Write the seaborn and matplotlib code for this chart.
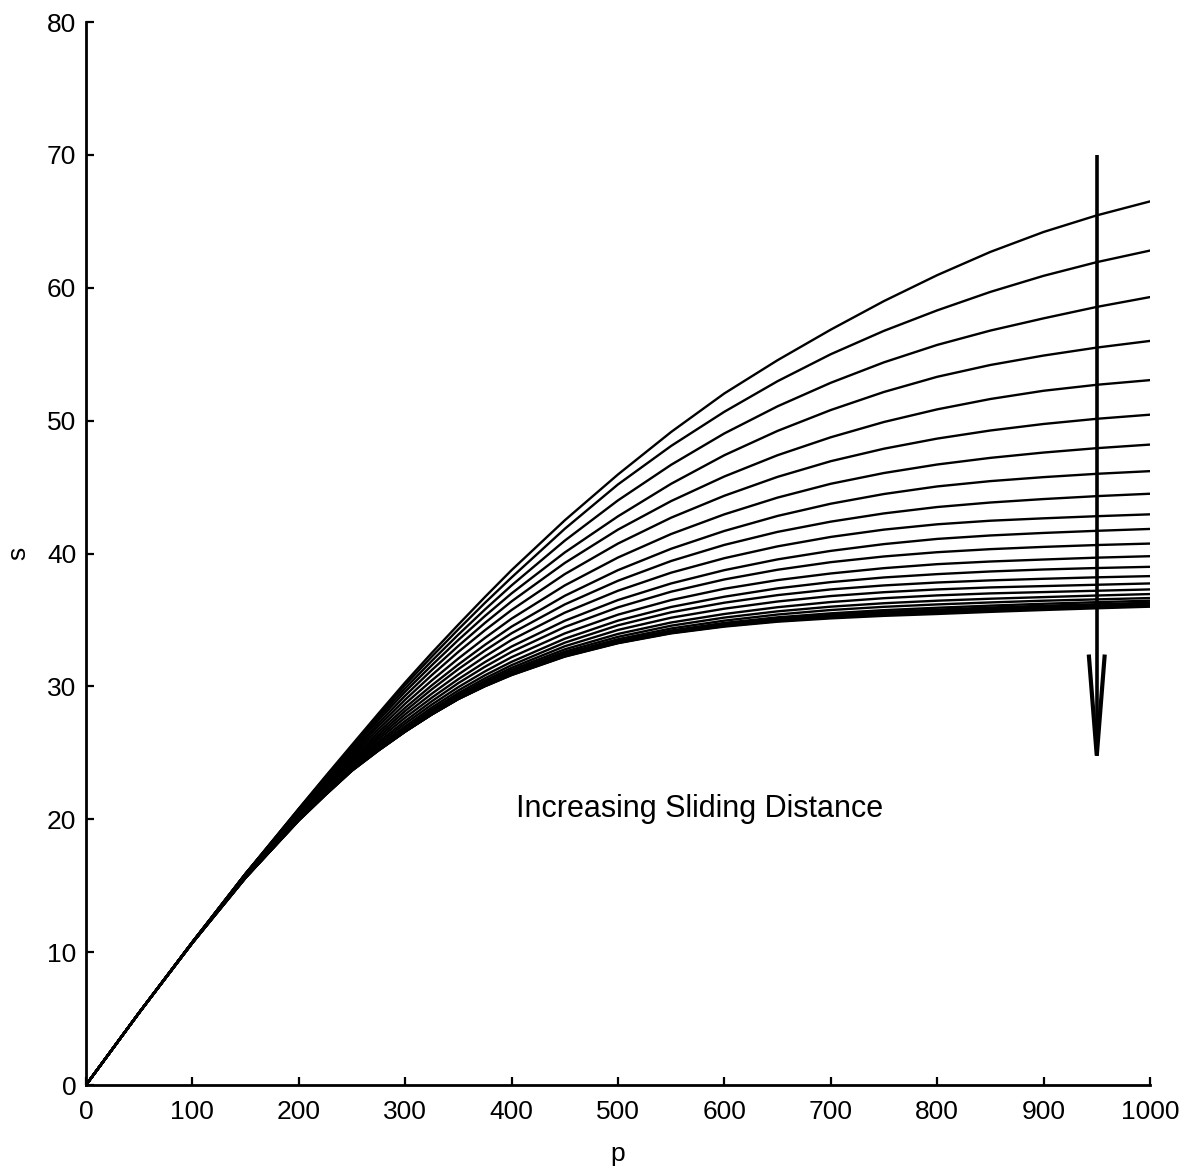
import numpy as np
import pandas as pd
import matplotlib
matplotlib.use("Agg")
import matplotlib.pyplot as plt
import seaborn as sns

# ---- data ----
p_values = [0, 50, 100, 150, 200, 225, 250, 275, 300, 325, 350, 375, 400,
            450, 500, 550, 600, 650, 700, 750, 800, 850, 900, 950, 1000]

s_01 = [0, 5.45, 10.75, 15.9, 20.8, 23.22, 25.6, 27.97, 30.3, 32.52, 34.65, 36.73, 38.75, 42.5, 45.95, 49.15, 52.05, 54.55, 56.85, 59.0, 60.95, 62.7, 64.2, 65.45, 66.5]
s_02 = [0, 5.45, 10.75, 15.9, 20.78, 23.16, 25.5, 27.82, 30.1, 32.24, 34.3, 36.29, 38.2, 41.86, 45.2, 48.1, 50.67, 52.97, 55.0, 56.76, 58.3, 59.69, 60.9, 61.93, 62.8]
s_03 = [0, 5.45, 10.75, 15.9, 20.75, 23.1, 25.4, 27.65, 29.85, 31.92, 33.9, 35.79, 37.6, 40.97, 44.0, 46.68, 49.04, 51.08, 52.85, 54.39, 55.7, 56.78, 57.7, 58.56, 59.3]
s_04 = [0, 5.45, 10.75, 15.9, 20.7, 23.0, 25.25, 27.46, 29.6, 31.59, 33.5, 35.3, 37.0, 40.08, 42.8, 45.25, 47.4, 49.23, 50.8, 52.16, 53.3, 54.19, 54.9, 55.5, 56.0]
s_05 = [0, 5.45, 10.75, 15.9, 20.65, 22.9, 25.1, 27.23, 29.3, 31.23, 33.05, 34.78, 36.4, 39.29, 41.8, 43.95, 45.8, 47.4, 48.75, 49.9, 50.85, 51.63, 52.25, 52.7, 53.05]
s_06 = [0, 5.45, 10.75, 15.9, 20.6, 22.8, 24.95, 27.02, 29.0, 30.85, 32.6, 34.23, 35.75, 38.45, 40.75, 42.7, 44.35, 45.77, 46.95, 47.89, 48.65, 49.26, 49.75, 50.14, 50.45]
s_07 = [0, 5.45, 10.75, 15.9, 20.55, 22.71, 24.8, 26.79, 28.7, 30.45, 32.1, 33.65, 35.1, 37.6, 39.7, 41.47, 42.95, 44.21, 45.25, 46.06, 46.7, 47.2, 47.6, 47.93, 48.2]
s_08 = [0, 5.45, 10.75, 15.8, 20.5, 22.6, 24.65, 26.57, 28.4, 30.08, 31.65, 33.13, 34.5, 36.82, 38.75, 40.36, 41.7, 42.83, 43.75, 44.48, 45.05, 45.45, 45.75, 46.0, 46.2]
s_09 = [0, 5.45, 10.75, 15.8, 20.45, 22.51, 24.5, 26.37, 28.15, 29.78, 31.3, 32.7, 34.0, 36.17, 37.95, 39.44, 40.65, 41.63, 42.4, 43.02, 43.5, 43.84, 44.1, 44.32, 44.5]
s_10 = [0, 5.45, 10.75, 15.8, 20.4, 22.43, 24.4, 26.19, 27.9, 29.45, 30.9, 32.25, 33.5, 35.55, 37.2, 38.56, 39.65, 40.54, 41.25, 41.8, 42.2, 42.47, 42.65, 42.81, 42.95]
s_11 = [0, 5.45, 10.75, 15.8, 20.35, 22.36, 24.3, 26.02, 27.65, 29.15, 30.55, 31.83, 33.0, 34.94, 36.5, 37.75, 38.75, 39.56, 40.2, 40.71, 41.1, 41.36, 41.55, 41.71, 41.85]
s_12 = [0, 5.45, 10.75, 15.8, 20.3, 22.28, 24.2, 25.84, 27.4, 28.88, 30.25, 31.48, 32.6, 34.47, 35.95, 37.13, 38.05, 38.78, 39.35, 39.78, 40.1, 40.33, 40.5, 40.64, 40.75]
s_13 = [0, 5.45, 10.75, 15.8, 20.25, 22.2, 24.1, 25.69, 27.2, 28.63, 29.95, 31.13, 32.2, 33.99, 35.4, 36.5, 37.35, 38.0, 38.5, 38.9, 39.2, 39.4, 39.55, 39.69, 39.8]
s_14 = [0, 5.45, 10.7, 15.7, 20.2, 22.14, 24.0, 25.55, 27.0, 28.41, 29.7, 30.84, 31.85, 33.59, 34.95, 35.98, 36.75, 37.38, 37.85, 38.2, 38.45, 38.65, 38.8, 38.91, 39.0]
s_15 = [0, 5.45, 10.7, 15.7, 20.15, 22.09, 23.95, 25.45, 26.85, 28.24, 29.5, 30.61, 31.6, 33.29, 34.6, 35.58, 36.3, 36.87, 37.3, 37.6, 37.82, 37.98, 38.1, 38.21, 38.3]
s_16 = [0, 5.45, 10.7, 15.7, 20.1, 22.04, 23.9, 25.38, 26.75, 28.11, 29.35, 30.44, 31.4, 33.02, 34.25, 35.17, 35.85, 36.39, 36.8, 37.09, 37.3, 37.45, 37.55, 37.65, 37.75]
s_17 = [0, 5.45, 10.7, 15.7, 20.07, 22.0, 23.85, 25.33, 26.7, 28.04, 29.25, 30.31, 31.25, 32.79, 33.95, 34.81, 35.45, 35.96, 36.35, 36.64, 36.85, 37.0, 37.1, 37.2, 37.3]
s_18 = [0, 5.45, 10.7, 15.7, 20.04, 21.96, 23.8, 25.29, 26.67, 27.99, 29.18, 30.22, 31.13, 32.62, 33.73, 34.57, 35.18, 35.65, 36.0, 36.26, 36.45, 36.6, 36.72, 36.84, 36.95]
s_19 = [0, 5.45, 10.7, 15.7, 20.01, 21.93, 23.77, 25.26, 26.65, 27.95, 29.13, 30.15, 31.05, 32.49, 33.55, 34.36, 34.95, 35.41, 35.75, 35.99, 36.17, 36.32, 36.45, 36.55, 36.65]
s_20 = [0, 5.45, 10.7, 15.6, 19.98, 21.9, 23.74, 25.24, 26.63, 27.93, 29.1, 30.1, 30.98, 32.39, 33.43, 34.21, 34.78, 35.2, 35.5, 35.74, 35.92, 36.08, 36.22, 36.34, 36.45]
s_21 = [0, 5.45, 10.7, 15.6, 19.96, 21.88, 23.72, 25.22, 26.62, 27.91, 29.08, 30.07, 30.94, 32.34, 33.37, 34.14, 34.69, 35.1, 35.39, 35.61, 35.78, 35.94, 36.07, 36.19, 36.3]
s_22 = [0, 5.45, 10.7, 15.6, 19.94, 21.86, 23.7, 25.21, 26.61, 27.9, 29.07, 30.05, 30.91, 32.31, 33.33, 34.09, 34.63, 35.03, 35.31, 35.53, 35.68, 35.84, 35.97, 36.08, 36.18]
s_23 = [0, 5.45, 10.7, 15.6, 19.92, 21.84, 23.68, 25.19, 26.6, 27.89, 29.06, 30.04, 30.89, 32.29, 33.3, 34.05, 34.58, 34.97, 35.24, 35.45, 35.6, 35.75, 35.88, 35.99, 36.1]
s_24 = [0, 5.45, 10.7, 15.6, 19.91, 21.83, 23.66, 25.18, 26.6, 27.89, 29.05, 30.02, 30.87, 32.26, 33.27, 34.02, 34.54, 34.92, 35.18, 35.38, 35.52, 35.68, 35.82, 35.94, 36.05]
s_25 = [0, 5.45, 10.7, 15.6, 19.9, 21.82, 23.65, 25.18, 26.6, 27.89, 29.05, 30.01, 30.85, 32.24, 33.25, 33.99, 34.5, 34.87, 35.12, 35.31, 35.45, 35.61, 35.75, 35.88, 36.0]

x_ticks = [0, 100, 200, 300, 400, 500, 600, 700, 800, 900, 1000]
y_ticks = [0, 10, 20, 30, 40, 50, 60, 70, 80]
x_label = "p"
y_label = "s"
note_text = "Increasing Sliding Distance"

# arrow annotation (data coordinates)
arrow_p = 950
arrow_top = 70
arrow_tip = 24.8
arrow_head_base = 32.4
arrow_head_half = 7.5

curves = [s_01, s_02, s_03, s_04, s_05, s_06, s_07, s_08, s_09, s_10, s_11, s_12, s_13,
          s_14, s_15, s_16, s_17, s_18, s_19, s_20, s_21, s_22, s_23, s_24, s_25]

frames = []
for i, s in enumerate(curves):
    frames.append(pd.DataFrame({"p": p_values, "s": s, "curve": i}))
df = pd.concat(frames, ignore_index=True)

# ---- styling ----
sns.set_theme(style="ticks")
plt.rcParams["font.family"] = ["Liberation Sans", "DejaVu Sans"]

fig = plt.figure(figsize=(11.99, 11.72), dpi=100)
ax = fig.add_axes([0.0717, 0.0742, 0.8874, 0.907])

sns.lineplot(data=df, x="p", y="s", units="curve", estimator=None, sort=False,
             color="black", linewidth=1.7, legend=False, ax=ax)

ax.set_xlim(0, 1000)
ax.set_ylim(0, 80)
ax.set_xticks(x_ticks)
ax.set_yticks(y_ticks)
ax.set_xticklabels([str(v) for v in x_ticks])
ax.set_yticklabels([str(v) for v in y_ticks])
ax.tick_params(direction="in", length=6, width=1.6, labelsize=19, colors="black")
ax.tick_params(axis="x", pad=10.5)
ax.tick_params(axis="y", pad=7)
ax.set_xlabel(x_label, fontsize=19, labelpad=13, color="black")
ax.set_ylabel(y_label, fontsize=19, labelpad=12, color="black")
sns.despine(ax=ax)
for side in ["left", "bottom"]:
    ax.spines[side].set_linewidth(2.0)
    ax.spines[side].set_color("black")

ax.text(577, 20.8, note_text, ha="center", va="center", fontsize=22, color="black")
# arrow: shaft + open V head
ax.plot([arrow_p, arrow_p], [arrow_top, arrow_tip], color="black", lw=2.6,
        solid_capstyle="butt")
ax.plot([arrow_p - arrow_head_half, arrow_p, arrow_p + arrow_head_half],
        [arrow_head_base, arrow_tip, arrow_head_base], color="black", lw=3.0,
        solid_joinstyle="miter", solid_capstyle="butt")

fig.savefig("out.png", dpi=100)
